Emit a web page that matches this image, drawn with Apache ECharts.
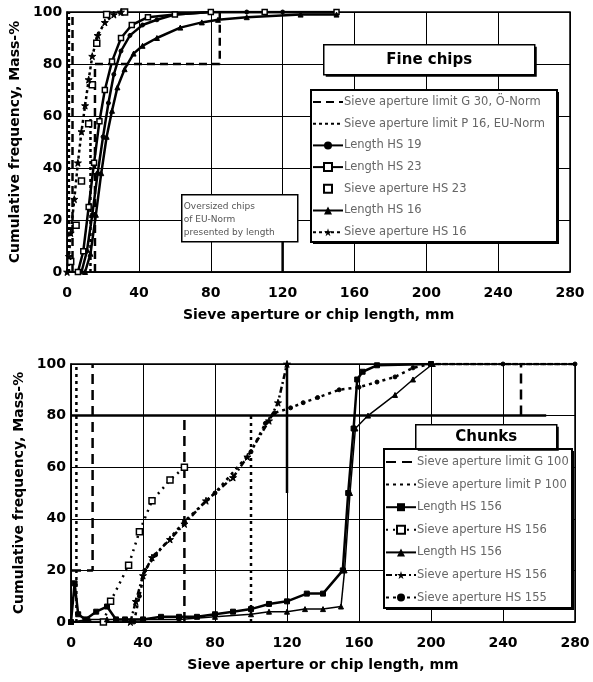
<!DOCTYPE html>
<html>
<head>
<meta charset="utf-8">
<script src="https://cdn.jsdelivr.net/npm/echarts@6/dist/echarts.min.js"></script>
<style>html,body{margin:0;padding:0;background:#fff}#c{width:593px;height:682px}</style>
</head>
<body>
<div id="c"></div>
<script>
// ---------- Tick values ----------
const xTicks = [0, 40, 80, 120, 160, 200, 240, 280];
const yTicks = [0, 20, 40, 60, 80, 100];

// ---------- Top chart: Fine chips ----------
const topTitle = 'Fine chips';
const topNames = ['Sieve aperture limit G 30, Ö-Norm', 'Sieve aperture limit P 16, EU-Norm', 'Length HS 19', 'Length HS 23', 'Sieve aperture HS 23', 'Length HS 16', 'Sieve aperture HS 16'];
const topNote = 'Oversized chips\nof EU-Norm\npresented by length';
const topG30 = [[[3, 0], [3, 100]], [[15.5, 0], [15.5, 80], [85, 80], [85, 100]]];
const topP16 = [[[1, 0], [1, 100]], [[13, 0], [13, 60]]];
const topP16Solid = [[[120, 0], [120, 20]]];
const topLenHS19 = [[8, 0], [11, 8], [14, 22], [17, 38], [20, 52], [23, 65], [26, 76], [30, 85], [35, 91], [42, 95], [50, 97], [60, 99], [80, 100], [100, 100], [120, 100], [150, 100]];
const topLenHS23 = [[6, 0], [9, 8], [12, 25], [15, 42], [18, 58], [21, 70], [25, 81], [30, 90], [36, 95], [45, 98], [60, 99], [80, 100], [110, 100], [150, 100]];
const topSieveHS23 = [[2, 4], [5, 18], [8, 35], [12, 57], [14, 72], [16.5, 88], [22, 99], [32, 100]];
const topLenHS16 = [[10, 0], [13, 7], [16, 22], [19, 38], [22, 52], [25, 62], [28, 71], [32, 78], [37, 84], [42, 87], [50, 90], [63, 94], [75, 96], [84, 97], [100, 98], [130, 99], [150, 99]];
const topSieveHS16 = [[0, 0], [1, 6], [2, 15], [4, 28], [6, 42], [8, 54], [10, 64], [12, 74], [14, 83], [17, 91], [21, 96], [26, 99], [30, 100]];

// ---------- Bottom chart: Chunks ----------
const botTitle = 'Chunks';
const botNames = ['Sieve aperture limit G 100', 'Sieve aperture limit P 100', 'Length HS 156', 'Sieve aperture HS 156', 'Length HS 156 ', 'Sieve aperture HS 156 ', 'Sieve aperture HS 155'];
const botG100 = [[[0, 20], [12, 20], [12, 100]], [[63, 0], [63, 80]], [[250, 80], [250, 100]]];
const botG100Solid = [[[0, 80], [264, 80]], [[120, 50], [120, 100]]];
const botP100 = [[[3, 0], [3, 100]], [[100, 0], [100, 80]], [[200, 100], [280, 100]]];
const botLenA = [[0, 0], [2, 15], [4, 3], [8, 1], [14, 4], [20, 6], [25, 1], [30, 1], [40, 1], [50, 2], [60, 2], [70, 2], [80, 3], [90, 4], [100, 5], [110, 7], [120, 8], [131, 11], [140, 11], [151, 20], [154, 50], [157, 75], [159, 94], [162, 97], [170, 99.5], [200, 100]];
const botSieveA = [[18, 0], [22, 8], [32, 22], [38, 35], [45, 47], [55, 55], [63, 60]];
const botLenB = [[0, 0], [10, 1], [20, 1], [40, 1], [60, 1], [80, 2], [100, 3], [110, 4], [120, 4], [130, 5], [140, 5], [150, 6], [152, 20], [155, 50], [158, 75], [165, 80], [180, 88], [190, 94], [201, 100]];
const botSieveB = [[33, 0], [36, 8], [40, 18], [45, 25], [55, 32], [63, 38], [75, 47], [90, 56], [98, 64], [110, 78], [115, 85], [120, 100]];
const botSieveC = [[35, 0], [38, 10], [41, 20], [47, 26], [63, 39], [80, 50], [100, 66], [108, 77], [113, 81], [122, 83], [129, 85], [137, 87], [149, 90], [160, 91], [170, 93], [180, 95], [190, 98.5], [200, 100], [240, 100], [280, 100]];

const star = 'path://M50,0 L61,35 L98,35 L68,57 L79,91 L50,70 L21,91 L32,57 L2,35 L39,35 Z';
const FONT = 'DejaVu Sans';

function seg(name, gi, data, type, width, symbol, size) {
  return {
    type: 'line', name: name, xAxisIndex: gi, yAxisIndex: gi, data: data,
    symbol: symbol || 'none', symbolSize: size || 6, showSymbol: !!symbol,
    lineStyle: {color: '#000', width: width, type: type},
    itemStyle: {color: '#000', borderColor: '#000'},
    animation: false, z: 3
  };
}
function segs(name, gi, list, type, width) {
  return list.map(d => seg(name, gi, d, type, width));
}
const openStyle = {color: '#fff', borderColor: '#000', borderWidth: 1.5};

const series = [].concat(
  segs(topNames[0], 0, topG30, [8, 5], 2.5),
  segs(topNames[1], 0, topP16, [3, 3], 2.5),
  [seg(topNames[2], 0, topLenHS19, 'solid', 2.5, 'circle', 4)],
  [Object.assign(seg(topNames[3], 0, topLenHS23, 'solid', 2.5, 'rect', 5), {itemStyle: openStyle})],
  [Object.assign(seg(topNames[4], 0, topSieveHS23, 'solid', 0, 'rect', 6), {lineStyle: {width: 0, opacity: 0}, itemStyle: openStyle})],
  [seg(topNames[5], 0, topLenHS16, 'solid', 2.5, 'triangle', 5)],
  [seg(topNames[6], 0, topSieveHS16, [3, 3], 2.5, star, 7)],
  segs(topNames[1], 0, topP16Solid, 'solid', 2.5),
  segs(botNames[0], 1, botG100, [10, 6], 2.5),
  segs(botNames[1], 1, botP100, [3, 4], 2.5),
  [seg(botNames[2], 1, botLenA, 'solid', 2.5, 'rect', 5)],
  [Object.assign(seg(botNames[3], 1, botSieveA, [2, 5], 2.5, 'rect', 6), {itemStyle: openStyle})],
  [seg(botNames[4], 1, botLenB, 'solid', 1.5, 'triangle', 5)],
  [seg(botNames[5], 1, botSieveB, [6, 3, 2, 3], 2.5, star, 7)],
  [seg(botNames[6], 1, botSieveC, [3, 4], 2.5, 'circle', 4)],
  segs(botNames[0], 1, botG100Solid, 'solid', 2.5)
);

function xAx(gi) {
  return {
    type: 'value', gridIndex: gi, min: 0, max: 280, interval: 40,
    name: 'Sieve aperture or chip length, mm', nameLocation: 'middle', nameGap: 36,
    nameTextStyle: {fontFamily: FONT, fontWeight: 'bold', fontSize: 14, color: '#000'},
    axisLine: {lineStyle: {color: '#000', width: 1.5}}, axisTick: {show: false},
    axisLabel: {fontFamily: FONT, fontWeight: 'bold', fontSize: 14, color: '#000', margin: 14},
    splitLine: {show: true, lineStyle: {color: '#000', width: 1}}
  };
}
function yAx(gi) {
  return {
    type: 'value', gridIndex: gi, min: 0, max: 100, interval: 20,
    name: 'Cumulative frequency, Mass-%', nameLocation: 'middle', nameGap: 38,
    nameTextStyle: {fontFamily: FONT, fontWeight: 'bold', fontSize: 14, color: '#000'},
    axisLine: {lineStyle: {color: '#000', width: 1.5}}, axisTick: {show: false},
    axisLabel: {fontFamily: FONT, fontWeight: 'bold', fontSize: 14, color: '#000', margin: 5},
    splitLine: {show: true, lineStyle: {color: '#000', width: 1}}
  };
}
const noMarker = {itemStyle: {opacity: 0}};
function legend(names, plain, left, top, gap) {
  return {
    data: names.map((n, i) => plain.indexOf(i) >= 0 ? Object.assign({name: n}, noMarker) : {name: n}),
    orient: 'vertical', left: left, top: top, itemGap: gap,
    itemWidth: 30, itemHeight: 10, selectedMode: false,
    padding: 0,
    textStyle: {fontFamily: FONT, fontSize: 11.5, color: '#666', padding: [0, 0, 0, -4]},
    z: 20
  };
}
function box(x, y, w, h) {
  return {
    type: 'group', left: x, top: y, z: 15, children: [
      {type: 'rect', z: 15, shape: {x: 2, y: 2, width: w, height: h}, style: {fill: '#000'}},
      {type: 'rect', z: 15, shape: {x: 0, y: 0, width: w, height: h}, style: {fill: '#fff', stroke: '#000', lineWidth: 2}}
    ]
  };
}
function titleBox(text, x, y, w, h) {
  return {
    type: 'group', left: x, top: y, z: 30, children: [
      {type: 'rect', z: 30, shape: {x: 2, y: 2, width: w, height: h}, style: {fill: '#000'}},
      {type: 'rect', z: 30, shape: {x: 0, y: 0, width: w, height: h}, style: {fill: '#fff', stroke: '#000', lineWidth: 1.5}},
      {type: 'text', z: 31, x: w / 2, y: h / 2, style: {text: text, fontFamily: FONT, fontWeight: 'bold', fontSize: 15, fill: '#000', align: 'center', verticalAlign: 'middle'}}
    ]
  };
}

const option = {
  backgroundColor: '#fff',
  animation: false,
  grid: [
    {left: 67, top: 12, right: 23, bottom: 410, show: true, borderColor: '#000', borderWidth: 1.5, backgroundColor: 'transparent'},
    {left: 71, top: 364, right: 18, bottom: 60, show: true, borderColor: '#000', borderWidth: 1.5, backgroundColor: 'transparent'}
  ],
  xAxis: [xAx(0), xAx(1)],
  yAxis: [yAx(0), yAx(1)],
  legend: [legend(topNames, [0, 1], 312, 96, 9.7), legend(botNames, [0, 1], 385, 456, 10.6)],
  graphic: [
    box(310, 89, 246, 152),
    box(383, 448, 188, 159),
    titleBox(topTitle, 323, 44, 211, 30),
    titleBox(botTitle, 415, 424, 141, 24),
    {
      type: 'group', left: 181, top: 194, z: 30, children: [
        {type: 'rect', z: 30, shape: {x: 0, y: 0, width: 116, height: 47}, style: {fill: '#fff', stroke: '#000', lineWidth: 1.5}},
        {type: 'text', z: 31, x: 2, y: 5, style: {text: topNote, fontFamily: FONT, fontSize: 9, lineHeight: 13, fill: '#555'}}
      ]
    }
  ],
  series: series
};
const chart = echarts.init(document.getElementById('c'), null, {renderer: 'canvas'});
chart.setOption(option);
</script>
</body>
</html>
